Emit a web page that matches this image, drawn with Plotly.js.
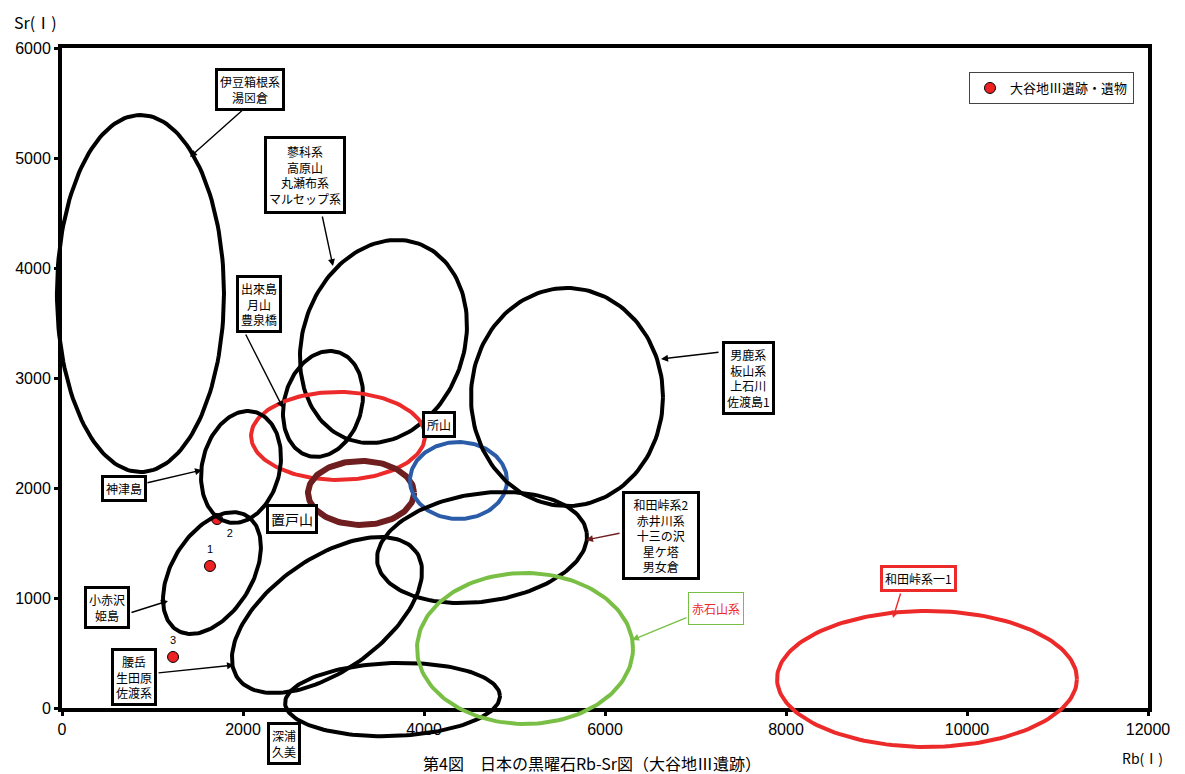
<!DOCTYPE html>
<html>
<head>
<meta charset="utf-8">
<script src="https://cdn.plot.ly/plotly-3.0.1.min.js"></script>
<style>
  body { margin: 0; background: #fff; }
  #chart { width: 1185px; height: 774px; }
</style>
</head>
<body>
<div id="chart"></div>
<script>
// 大谷地Ⅲ遺跡 samples
const sampleRb = [1635, 1713, 1227];
const sampleSr = [1291, 1718, 464];
const sampleNo = ['1', '2', '3'];

// source fields: centre (Rb, Sr), half sizes before tilt (Rb, Sr), tilt in degrees
const fieldNames = ['伊豆箱根系', '蓼科系', '出來島', '所山', '置戸山', '',
    '男鹿系', '神津島', '小赤沢', '腰岳', '和田峠系2', '深浦', '赤石山系', '和田峠系一1'];
const fieldRb = [867, 3552, 2884, 3050, 3304, 4381, 5580, 1978, 1657, 2928, 4641, 3652, 5116, 9558];
const fieldSr = [3768, 3332, 2764, 2473, 1955, 2068, 2827, 2191, 1227, 845, 1459, 77, 541, 264];
const fieldRbHalf = [923, 890, 428, 961, 586, 536, 1061, 429, 444, 1208, 1169, 1188, 1193, 1657];
const fieldSrHalf = [1623, 945, 491, 400, 291, 350, 991, 516, 609, 512, 491, 332, 686, 618];
const fieldTilt = [0, -19.7, -15.7, 0, 0, 0, 0, -13.5, -31.4, 35.2, 8.2, 2, 0, 0];

// label boxes
const labelText = [
    '伊豆箱根系<br>湯⊠倉',
    '蓼科系<br>高原山<br>丸瀬布系<br>マルセップ系',
    '出來島<br>月山<br>豊泉橋',
    '所山',
    '男鹿系<br>板山系<br>上石川<br>佐渡島1',
    '和田峠系2<br>赤井川系<br>十三の沢<br>星ケ塔<br>男女倉',
    '神津島',
    '置戸山',
    '小赤沢<br>姫島',
    '腰岳<br>生田原<br>佐渡系',
    '深浦<br>久美',
    '赤石山系',
    '和田峠系一1'
];
const labelRb = [2077, 2685, 2177, 4166, 7591, 6619, 685, 2541, 497, 801, 2453, 7227, 9459];
const labelSr = [5627, 4845, 3673, 2573, 3000, 1568, 1995, 1718, 914, 286, -323, 905, 1177];

// leader arrows, tail -> head
const arrowTailRb = [2022, 2873, 2022, 7271, 6177, 928, 751, 1050, 6917, 9271];
const arrowTailSr = [5455, 4482, 3409, 3236, 1591, 2045, 864, 318, 827, 1055];
const arrowHeadRb = [1414, 2994, 2442, 6619, 5790, 1547, 1171, 1901, 6298, 9182];
const arrowHeadSr = [5009, 4018, 2727, 3173, 1527, 2164, 973, 391, 618, 818];

// styles
const RED = '#ec2a2a', BLUE = '#2b5ca8', GREEN = '#7abf45', MAROON = '#6e1e1e';
const fieldColor = ['black', 'black', 'black', RED, MAROON, BLUE, 'black', 'black', 'black',
    'black', 'black', 'black', GREEN, RED];
const fieldWidth = [4, 4, 4, 4, 6, 4, 4, 4, 4, 4, 4, 4, 4, 4];
const arrowColor = ['black', 'black', 'black', 'black', MAROON, 'black', 'black', 'black', GREEN, RED];
const JP = 'Noto Sans CJK JP';

// page geometry
const W = 1185, H = 774;
const M = { l: 40, r: 10, t: 10, b: 5 };
const AX = { left: 62, right: 1148, top: 48, bottom: 708 };
const rbRange = [0, 12000], srRange = [0, 6000];
const sx = (AX.right - AX.left) / (rbRange[1] - rbRange[0]);
const sy = (AX.bottom - AX.top) / (srRange[1] - srRange[0]);
const areaL = M.l, areaR = W - M.r, areaT = M.t, areaB = H - M.b;
const xDomain = [(AX.left - areaL) / (areaR - areaL), (AX.right - areaL) / (areaR - areaL)];
const yDomain = [(areaB - AX.bottom) / (areaB - areaT), (areaB - AX.top) / (areaB - areaT)];
// invisible axes on the same scale over the whole area, so outlines can spill past the frame
const x2Range = [(areaL - AX.left) / sx, (areaR - AX.left) / sx];
const y2Range = [(AX.bottom - areaB) / sy, (AX.bottom - areaT) / sy];

function paperX(px) { return (px - areaL) / (areaR - areaL); }
function paperY(py) { return (areaB - py) / (areaB - areaT); }

// outline of one field
function fieldTrace(i) {
    const a = fieldRbHalf[i] * sx, b = fieldSrHalf[i] * sy;
    const th = fieldTilt[i] * Math.PI / 180;
    const xs = [], ys = [];
    for (let k = 0; k <= 160; k++) {
        const t = 2 * Math.PI * k / 160;
        const dx = a * Math.cos(th) * Math.cos(t) - b * Math.sin(th) * Math.sin(t);
        const dy = a * Math.sin(th) * Math.cos(t) + b * Math.cos(th) * Math.sin(t);
        xs.push(fieldRb[i] + dx / sx);
        ys.push(fieldSr[i] + dy / sy);
    }
    return {
        x: xs, y: ys, xaxis: 'x2', yaxis: 'y2',
        type: 'scatter', mode: 'lines',
        name: fieldNames[i],
        line: { color: fieldColor[i], width: fieldWidth[i] },
        showlegend: false, hoverinfo: 'name'
    };
}

const traces = [];
traces.push({
    x: sampleRb, y: sampleSr, type: 'scatter', mode: 'markers',
    name: '大谷地Ⅲ遺跡・遺物',
    marker: { size: 11, color: '#ee2222', line: { color: 'black', width: 1 } }
});
// sample numbers (invisible markers keep the text clear of the dots)
traces.push({
    x: sampleRb, y: sampleSr, type: 'scatter', mode: 'markers+text',
    text: sampleNo, textposition: ['top center', 'bottom right', 'top center'],
    marker: { size: 14, color: 'rgba(0,0,0,0)' },
    textfont: { family: 'Liberation Sans', size: 11, color: 'black' },
    showlegend: false, hoverinfo: 'skip'
});
fieldRb.forEach((_, i) => traces.push(fieldTrace(i)));

const annotations = [];
arrowTailRb.forEach((_, i) => {
    annotations.push({
        xref: 'x2', yref: 'y2', axref: 'x2', ayref: 'y2',
        x: arrowHeadRb[i], y: arrowHeadSr[i], ax: arrowTailRb[i], ay: arrowTailSr[i],
        text: '', showarrow: true, arrowhead: 2, arrowsize: 1, arrowwidth: 1.4,
        arrowcolor: arrowColor[i], standoff: 0
    });
});
labelText.forEach((txt, i) => {
    const ann = {
        xref: 'x2', yref: 'y2', x: labelRb[i], y: labelSr[i],
        text: txt, showarrow: false,
        font: { family: JP, size: 12, color: 'black' },
        bgcolor: 'white', bordercolor: 'black', borderwidth: 3, borderpad: 2
    };
    if (txt === '置戸山') ann.font.size = 14;
    if (txt === '和田峠系2<br>赤井川系<br>十三の沢<br>星ケ塔<br>男女倉') ann.width = 68;
    if (txt === '蓼科系<br>高原山<br>丸瀬布系<br>マルセップ系') ann.height = 68;
    if (txt === '赤石山系') {
        ann.font.color = RED; ann.bordercolor = GREEN; ann.borderwidth = 1;
        ann.width = 50; ann.height = 27;
    }
    if (txt === '和田峠系一1') { ann.bordercolor = RED; }
    annotations.push(ann);
});
annotations.push(
    { xref: 'paper', yref: 'paper', x: paperX(12), y: paperY(22), xanchor: 'left', yanchor: 'middle',
      text: 'Sr(Ⅰ)', showarrow: false, font: { family: JP, size: 16, color: 'black' } },
    { xref: 'paper', yref: 'paper', x: paperX(1120), y: paperY(758), xanchor: 'left', yanchor: 'middle',
      text: 'Rb(Ⅰ)', showarrow: false, font: { family: JP, size: 14, color: 'black' } },
    { xref: 'paper', yref: 'paper', x: paperX(592), y: paperY(763), xanchor: 'center', yanchor: 'middle',
      text: '第4図　日本の黒曜石Rb-Sr図（大谷地Ⅲ遺跡）', showarrow: false,
      font: { family: JP, size: 16, color: 'black' } }
);

const axisStyle = {
    showline: true, linecolor: 'black', linewidth: 4, mirror: true,
    ticks: 'outside', ticklen: 4, tickwidth: 3, tickcolor: 'black',
    showgrid: false, zeroline: false, fixedrange: true, tickformat: 'd',
    tickfont: { family: 'Liberation Sans', size: 16, color: 'black' }
};

const layout = {
    width: W, height: H,
    margin: M,
    paper_bgcolor: 'white', plot_bgcolor: 'rgba(0,0,0,0)',
    showlegend: true,
    legend: {
        x: paperX(1134), xanchor: 'right', y: paperY(72), yanchor: 'top',
        bgcolor: 'white', bordercolor: '#444', borderwidth: 1,
        font: { family: JP, size: 13, color: 'black' },
        itemwidth: 30, tracegroupgap: 0
    },
    xaxis: Object.assign({}, axisStyle, { range: rbRange, dtick: 2000, domain: xDomain, anchor: 'y' }),
    yaxis: Object.assign({}, axisStyle, { range: srRange, dtick: 1000, domain: yDomain, anchor: 'x' }),
    xaxis2: { range: x2Range, domain: [0, 1], anchor: 'y2', visible: false, fixedrange: true },
    yaxis2: { range: y2Range, domain: [0, 1], anchor: 'x2', visible: false, fixedrange: true },
    annotations: annotations
};

Plotly.newPlot('chart', traces, layout, { displayModeBar: false, staticPlot: true });
</script>
</body>
</html>
